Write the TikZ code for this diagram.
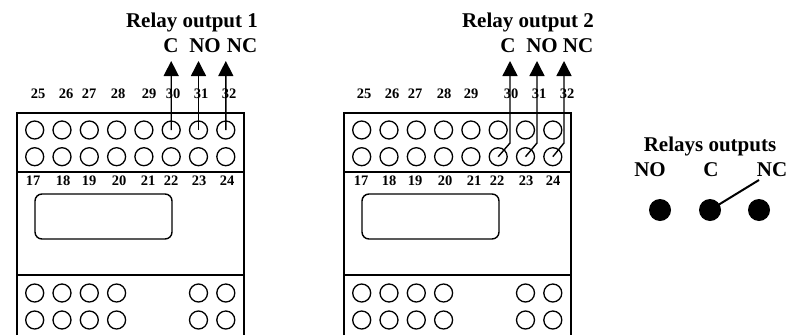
\documentclass[tikz,border=0pt]{standalone}
\usepackage{fontspec}
\setmainfont{Liberation Serif}
\usetikzlibrary{arrows.meta}
\tikzset{
  term/.style={circle,draw,line width=1.3pt,minimum size=18pt,inner sep=0pt},
  dot/.style={circle,fill=black,minimum size=22pt,inner sep=0pt},
  num/.style={font=\bfseries\fontsize{14.5}{14.5}\selectfont,anchor=base,inner sep=0pt},
  lab/.style={font=\bfseries\fontsize{21}{21}\selectfont,anchor=base,inner sep=0pt},
  outwire/.style={line width=1.4pt,-{Triangle[length=15pt,width=15pt]}},
  case/.style={line width=1.4pt}
}
\begin{document}
\begin{tikzpicture}[x=1pt,y=-1pt]
\useasboundingbox (0,0) rectangle (789,335);
% left module
\draw[case] (17,335) -- (17,113) -- (244,113) -- (244,335);
\draw[case] (17,172) -- (244,172);
\draw[case] (17,275) -- (244,275);
\draw[case,rounded corners=7pt] (35,194) rectangle (172,239);
\foreach \i in {1,...,8}{
  \node[term] (a\i) at ({34.7+27.3*(\i-1)},130) {};
  \node[term] (b\i) at ({34.7+27.3*(\i-1)},156.7) {};
}
\foreach \i/\xx in {1/34.7,2/62,3/89.3,4/116.6,7/198.5,8/225.8}{
  \node[term] (c\i) at (\xx,293) {};
  \node[term] (d\i) at (\xx,320) {};
}
\foreach \t/\xx in {25/38,26/66,27/89,28/118,29/149,30/173,31/201,32/229}
  \node[num] (at\t) at (\xx,98) {\t};
\foreach \t/\xx in {17/33,18/63,19/89,20/119,21/148,22/171,23/199,24/227}
  \node[num] (ab\t) at (\xx,185) {\t};
\coordinate (t1) at (171.2,61);
\coordinate (t2) at (198.5,61);
\coordinate (t3) at (225.8,61);
\draw[outwire] (a6.center) -- (t1);
\draw[outwire] (a7.center) -- (t2);
\draw[outwire] (a8.center) -- (t3);
\node[lab] (title1) at (192,27) {Relay output 1};
\node[lab] (c1l) at (171,52) {C};
\node[lab] (no1l) at (205,52) {NO};
\node[lab] (nc1l) at (242,52) {NC};
% middle module
\draw[case] (344,335) -- (344,113) -- (571,113) -- (571,335);
\draw[case] (344,172) -- (571,172);
\draw[case] (344,275) -- (571,275);
\draw[case,rounded corners=7pt] (362,194) rectangle (499,239);
\foreach \i in {1,...,8}{
  \node[term] (e\i) at ({361.7+27.3*(\i-1)},130) {};
  \node[term] (f\i) at ({361.7+27.3*(\i-1)},156.7) {};
}
\foreach \i/\xx in {1/361.7,2/389,3/416.3,4/443.6,7/525.5,8/552.8}{
  \node[term] (g\i) at (\xx,293) {};
  \node[term] (h\i) at (\xx,320) {};
}
\foreach \t/\xx in {25/364,26/392,27/415,28/444,29/471,30/511,31/539,32/567}
  \node[num] (bt\t) at (\xx,98) {\t};
\foreach \t/\xx in {17/361,18/389,19/415,20/445,21/474,22/497,23/526,24/553}
  \node[num] (bb\t) at (\xx,185) {\t};
\coordinate (u1) at (510,61);
\coordinate (u2) at (537,61);
\coordinate (u3) at (564,61);
\draw[outwire] (f6.center) -- (510,143) -- (u1);
\draw[outwire] (f7.center) -- (537,143) -- (u2);
\draw[outwire] (f8.center) -- (564,143) -- (u3);
\node[lab] (title2) at (528,27) {Relay output 2};
\node[lab] (c2l) at (508,52) {C};
\node[lab] (no2l) at (542,52) {NO};
\node[lab] (nc2l) at (578,52) {NC};
% contact symbol
\node[lab] (title3) at (710,151) {Relays outputs};
\node[lab] (nol) at (650,176) {NO};
\node[lab] (cl) at (711,176) {C};
\node[lab] (ncl) at (772,176) {NC};
\node[dot] (dno) at (660,210) {};
\node[dot] (dc) at (710,210) {};
\node[dot] (dnc) at (759,210) {};
\coordinate (sw) at (759,180);
\draw[line width=2pt] (dc.center) -- (sw);
\end{tikzpicture}
\end{document}
